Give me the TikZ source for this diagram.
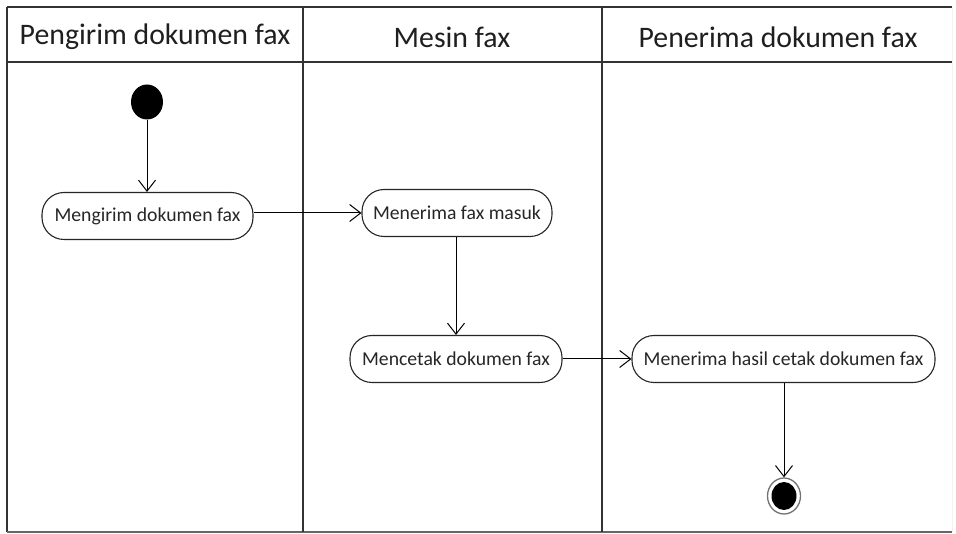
\documentclass[tikz,border=0pt]{standalone}
\usepackage{fontspec}
\setmainfont{Carlito}
\usetikzlibrary{arrows.meta,shapes.geometric}
\tikzset{
  act/.style={draw=black!85, line width=1.1pt, rounded corners=22pt, minimum height=47pt,
    inner sep=0pt, font=\fontsize{19.7}{22}\selectfont, text=black!85, fill=white},
  hdr/.style={font=\fontsize{29.8}{34}\selectfont, text=black!88, inner sep=0pt},
  flow/.style={draw=black, line width=1pt, -{Straight Barb[length=11pt,width=17pt,line width=1pt]}},
  frameline/.style={draw=black!80, line width=1.6pt}
}
\begin{document}
\begin{tikzpicture}[x=1pt,y=-1pt]
\useasboundingbox (0,0) rectangle (956,534);
\fill[white] (0,0) rectangle (956,534);
% frame
\draw[frameline] (7,7) -- (952,7);
\draw[frameline] (7,7) -- (7,532);
\draw[frameline, draw=black!60] (7,532) -- (952,532);
\draw[line width=1pt, draw=black!5] (952,7) -- (952,532);
\draw[frameline] (7,62) -- (952,62);
\draw[line width=1.3pt, draw=black!80] (303,7) -- (303,532);
\draw[line width=1.3pt, draw=black!80] (602,7) -- (602,532);
% headers
\node[hdr] (h1) at (155,37) {Pengirim dokumen fax};
\node[hdr] (h2) at (452,37) {Mesin fax};
\node[hdr] (h3) at (778,37) {Penerima dokumen fax};
% start
\node[ellipse, fill=black, minimum width=32pt, minimum height=35pt, inner sep=0pt] (start) at (147,102) {};
% activities
\node[act, minimum width=211pt] (n1) at (147.5,216) {Mengirim dokumen fax};
\node[act, minimum width=190pt] (n2) at (457,213) {Menerima fax masuk};
\node[act, minimum width=212pt] (n3) at (456,359) {Mencetak dokumen fax};
\node[act, minimum width=303pt] (n4) at (783.5,359) {Menerima hasil cetak dokumen fax};
% end
\node[ellipse, draw=black!55, line width=1.3pt, fill=white, minimum width=33pt, minimum height=36pt, inner sep=0pt] (end) at (784,496) {};
\node[ellipse, fill=black, minimum width=25pt, minimum height=28pt, inner sep=0pt] (endin) at (end.center) {};
% flows
\draw[flow] (start.south) -- (start.south |- n1.north);
\draw[flow] (n1.east |- n2.west) -- (n2.west);
\draw[flow] (n2.south -| n3.north) -- (n3.north);
\draw[flow] (n3.east) -- (n4.west);
\draw[flow] (n4.south -| end.north) -- (end.north);
\end{tikzpicture}
\end{document}
